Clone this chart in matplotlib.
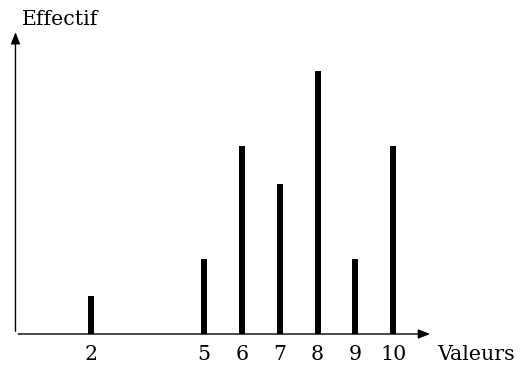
import matplotlib.pyplot as plt

# Valeurs et effectifs
valeurs = [2, 5, 6, 7, 8, 9, 10]
effectifs = [1, 2, 5, 4, 7, 2, 5]
etiquettes = ["2", "5", "6", "7", "8", "9", "10"]

plt.rcParams['font.family'] = ['DejaVu Serif']

fig = plt.figure(figsize=(5.2, 3.65), dpi=100)
ax = fig.add_axes([0, 0, 1, 1])
ax.set_xlim(-0.41, 13.36)
ax.set_ylim(-0.824, 8.883)
ax.axis("off")

# bâtons
ax.bar(valeurs, effectifs, width=0.16, color="black")

# axes avec flèches
ax.annotate("", xy=(11.05, 0), xytext=(0, 0),
            arrowprops=dict(arrowstyle="-|>,head_length=0.5,head_width=0.2",
                            color="black", lw=1, mutation_scale=14))
ax.annotate("", xy=(0, 8.1), xytext=(0, 0),
            arrowprops=dict(arrowstyle="-|>,head_length=0.5,head_width=0.2",
                            color="black", lw=1, mutation_scale=14))

for v, t in zip(valeurs, etiquettes):
    ax.text(v, -0.55, t, ha="center", va="center", fontsize=14.8)

ax.text(0.17, 8.37, "Effectif", ha="left", va="center", fontsize=14.8)
ax.text(11.17, -0.55, "Valeurs", ha="left", va="center", fontsize=14.8)

fig.savefig("out.png", dpi=100)
